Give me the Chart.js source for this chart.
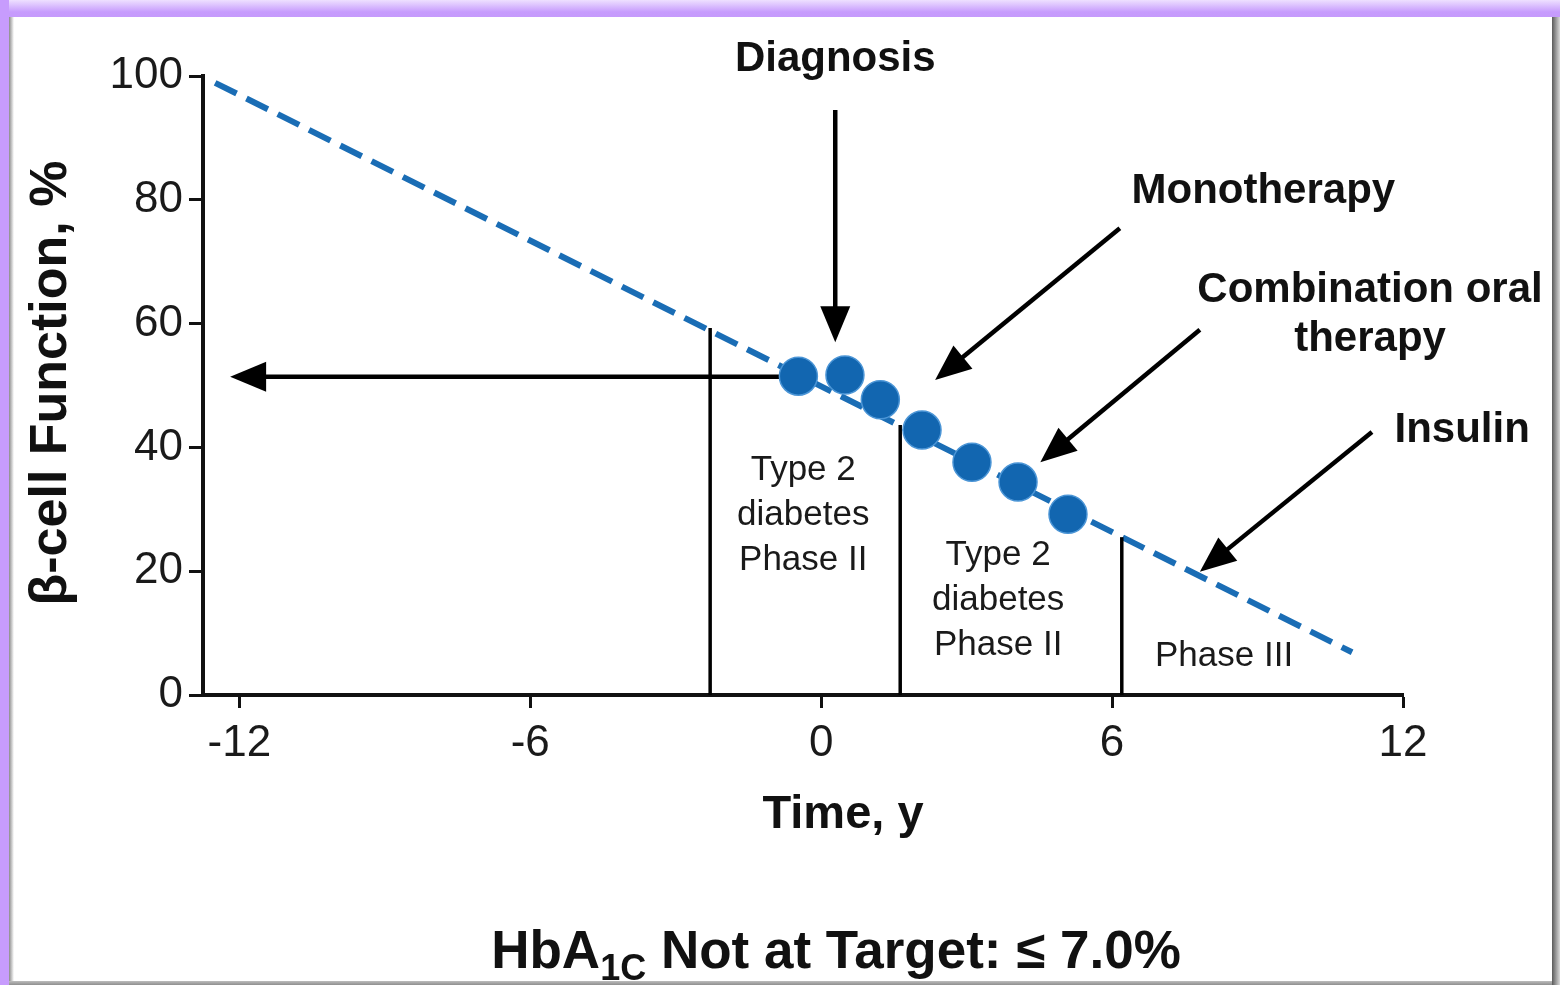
<!DOCTYPE html>
<html>
<head>
<meta charset="utf-8">
<script src="https://cdn.jsdelivr.net/npm/chart.js@4.4.1/dist/chart.umd.min.js"></script>
<style>
  html, body { margin:0; padding:0; width:1560px; height:985px; overflow:hidden; background:#ffffff; }
  #topband { position:absolute; left:0; top:0; width:1560px; height:17px; background:linear-gradient(#eee0ff, #c79cfd 70%, #c59afc); }
  #leftband { position:absolute; left:0; top:0; width:9px; height:985px; background:#c79cfd; }
  #leftshadow { position:absolute; left:9px; top:17px; width:5px; height:968px; background:linear-gradient(to right, #8a8a8a, #ffffff); }
  #rightshadow { position:absolute; left:1552px; top:17px; width:8px; height:968px; background:linear-gradient(to right, #5a5a5a, #d9d9d9); }
  #bottomshadow { position:absolute; left:9px; top:981px; width:1543px; height:4px; background:linear-gradient(#bdbdbd, #8f8f8f); }
  #c { position:absolute; left:0; top:0; }
</style>
</head>
<body>
<div id="topband"></div>
<div id="leftband"></div>
<div id="leftshadow"></div>
<div id="rightshadow"></div>
<div id="bottomshadow"></div>
<canvas id="c" width="1560" height="985"></canvas>
<script>
// ---- Data ----
const xTickStep = 6;            // Time, y : -12, -6, 0, 6, 12
const yTickStep = 20;           // β-cell function : 0..100
const declineX = [-12.5, 10.95];   // dashed decline line endpoints (years)
const declineY = [98.9, 6.9];      // β-cell function, %
const dotX = [-0.47, 0.49, 1.22, 2.08, 3.11, 4.06, 5.09];
const dotY = [51.5, 51.7, 47.7, 42.8, 37.6, 34.4, 29.2];
const phaseLineX = [-2.29, 1.63, 6.2];
const phaseLineTop = [59.3, 43.6, 25.5];
// arrows: [fromX, fromY, toX, toY]
const arrowFromX = [-0.74, 0.29, 6.16, 7.81, 11.36];
const arrowFromY = [51.4, 94.5, 75.4, 59.0, 42.5];
const arrowToX   = [-12.19, 0.29, 2.35, 4.52, 7.81];
const arrowToY   = [51.4, 57.0, 50.9, 37.6, 19.9];
// callout labels (bold)
const calloutText = ["Diagnosis", "Monotherapy", "Combination oral", "therapy", "Insulin"];
const calloutX = [0.29, 9.12, 11.32, 11.32, 13.22];
const calloutY = [102.6, 81.3, 65.4, 57.4, 42.8];
// phase labels (regular)
const phaseText = ["Type 2", "diabetes", "Phase II", "Type 2", "diabetes", "Phase II", "Phase III"];
const phaseTextX = [-0.37, -0.37, -0.37, 3.65, 3.65, 3.65, 8.31];
const phaseTextY = [36.3, 29.1, 21.8, 22.6, 15.3, 8.1, 6.3];

const FONT = '"Liberation Sans", Arial, sans-serif';
const BLUE = '#1a6db5';
const DOT = '#1266b0';

function drawArrow(ctx, x1, y1, x2, y2) {
  const ang = Math.atan2(y2 - y1, x2 - x1);
  const L = 36, W = 15;
  const bx = x2 - L * Math.cos(ang), by = y2 - L * Math.sin(ang);
  ctx.beginPath();
  ctx.moveTo(x1, y1);
  ctx.lineTo(bx + 2 * Math.cos(ang), by + 2 * Math.sin(ang));
  ctx.stroke();
  ctx.beginPath();
  ctx.moveTo(x2, y2);
  ctx.lineTo(bx + W * Math.sin(ang), by - W * Math.cos(ang));
  ctx.lineTo(bx - W * Math.sin(ang), by + W * Math.cos(ang));
  ctx.closePath();
  ctx.fill();
}

const annotPlugin = {
  id: 'annot',
  beforeDatasetsDraw(chart) {
    const ctx = chart.ctx, xs = chart.scales.x, ys = chart.scales.y;
    ctx.save();
    ctx.strokeStyle = '#000'; ctx.fillStyle = '#000'; ctx.lineWidth = 4.5; ctx.lineCap = 'butt';
    for (let i = 0; i < arrowFromX.length; i++) {
      drawArrow(ctx, xs.getPixelForValue(arrowFromX[i]), ys.getPixelForValue(arrowFromY[i]),
                     xs.getPixelForValue(arrowToX[i]), ys.getPixelForValue(arrowToY[i]));
    }
    ctx.restore();
  },
  afterDraw(chart) {
    const ctx = chart.ctx, xs = chart.scales.x, ys = chart.scales.y;
    ctx.save();
    ctx.fillStyle = '#111';
    ctx.textAlign = 'center'; ctx.textBaseline = 'middle';
    ctx.font = 'bold 42px ' + FONT;
    for (let i = 0; i < calloutText.length; i++) {
      ctx.fillText(calloutText[i], xs.getPixelForValue(calloutX[i]), ys.getPixelForValue(calloutY[i]));
    }
    ctx.font = '35px ' + FONT;
    ctx.fillStyle = '#1a1a1a';
    for (let i = 0; i < phaseText.length; i++) {
      ctx.fillText(phaseText[i], xs.getPixelForValue(phaseTextX[i]), ys.getPixelForValue(phaseTextY[i]));
    }
    // axis titles
    ctx.fillStyle = '#111';
    ctx.font = 'bold 47px ' + FONT;
    ctx.fillText('Time, y', 843, 815);
    ctx.save();
    ctx.translate(52, 383);
    ctx.rotate(-Math.PI / 2);
    ctx.font = 'bold 52px ' + FONT;
    ctx.fillText('β-cell Function, %', 0, 0);
    ctx.restore();
    // bottom caption with subscript
    const big = 'bold 53px ' + FONT, small = 'bold 36px ' + FONT;
    ctx.textAlign = 'left'; ctx.textBaseline = 'alphabetic';
    ctx.font = big; const w1 = ctx.measureText('HbA').width;
    ctx.font = small; const w2 = ctx.measureText('1C').width;
    ctx.font = big; const w3 = ctx.measureText(' Not at Target: ≤ 7.0%').width;
    let x0 = 836 - (w1 + w2 + w3) / 2, base = 968;
    ctx.font = big; ctx.fillText('HbA', x0, base);
    ctx.font = small; ctx.fillText('1C', x0 + w1, base + 12);
    ctx.font = big; ctx.fillText(' Not at Target: ≤ 7.0%', x0 + w1 + w2, base);
    ctx.restore();
  }
};

const datasets = [
  {
    label: 'Decline', type: 'line',
    data: declineX.map((x, i) => ({ x, y: declineY[i] })),
    borderColor: BLUE, borderWidth: 6, borderDash: [24, 11], pointRadius: 0,
    showLine: true, fill: false, clip: false, order: 3
  },
  {
    label: 'Measurements', type: 'scatter',
    data: dotX.map((x, i) => ({ x, y: dotY[i] })),
    backgroundColor: DOT, borderColor: '#4b95d6', borderWidth: 1.5, pointRadius: 19, clip: false, order: 1
  }
];
phaseLineX.forEach((x, i) => {
  datasets.push({
    label: 'Phase ' + i, type: 'line',
    data: [{ x, y: 0 }, { x, y: phaseLineTop[i] }],
    borderColor: '#000', borderWidth: 3.5, pointRadius: 0, showLine: true, fill: false, clip: false, order: 2
  });
});

new Chart(document.getElementById('c'), {
  type: 'scatter',
  data: { datasets },
  options: {
    responsive: false, animation: false,
    layout: { padding: { top: 76, right: 157, bottom: 0, left: 0 } },
    plugins: { legend: { display: false }, tooltip: { enabled: false } },
    scales: {
      x: {
        type: 'linear', min: -12.75, max: 12,
        ticks: { stepSize: xTickStep, includeBounds: false, font: { family: FONT, size: 44 }, color: '#1a1a1a', padding: 9 },
        grid: { drawOnChartArea: false, drawTicks: true, tickLength: 13, tickWidth: 3, tickColor: '#111' },
        border: { color: '#111', width: 4 },
        afterFit(s) { s.height = 290; }
      },
      y: {
        type: 'linear', min: 0, max: 100,
        ticks: { stepSize: yTickStep, font: { family: FONT, size: 44 }, color: '#1a1a1a', padding: 6 },
        grid: { drawOnChartArea: false, drawTicks: true, tickLength: 14, tickWidth: 3, tickColor: '#111' },
        border: { color: '#111', width: 4 },
        afterFit(s) { s.width = 203; }
      }
    }
  },
  plugins: [annotPlugin]
});
</script>
</body>
</html>
